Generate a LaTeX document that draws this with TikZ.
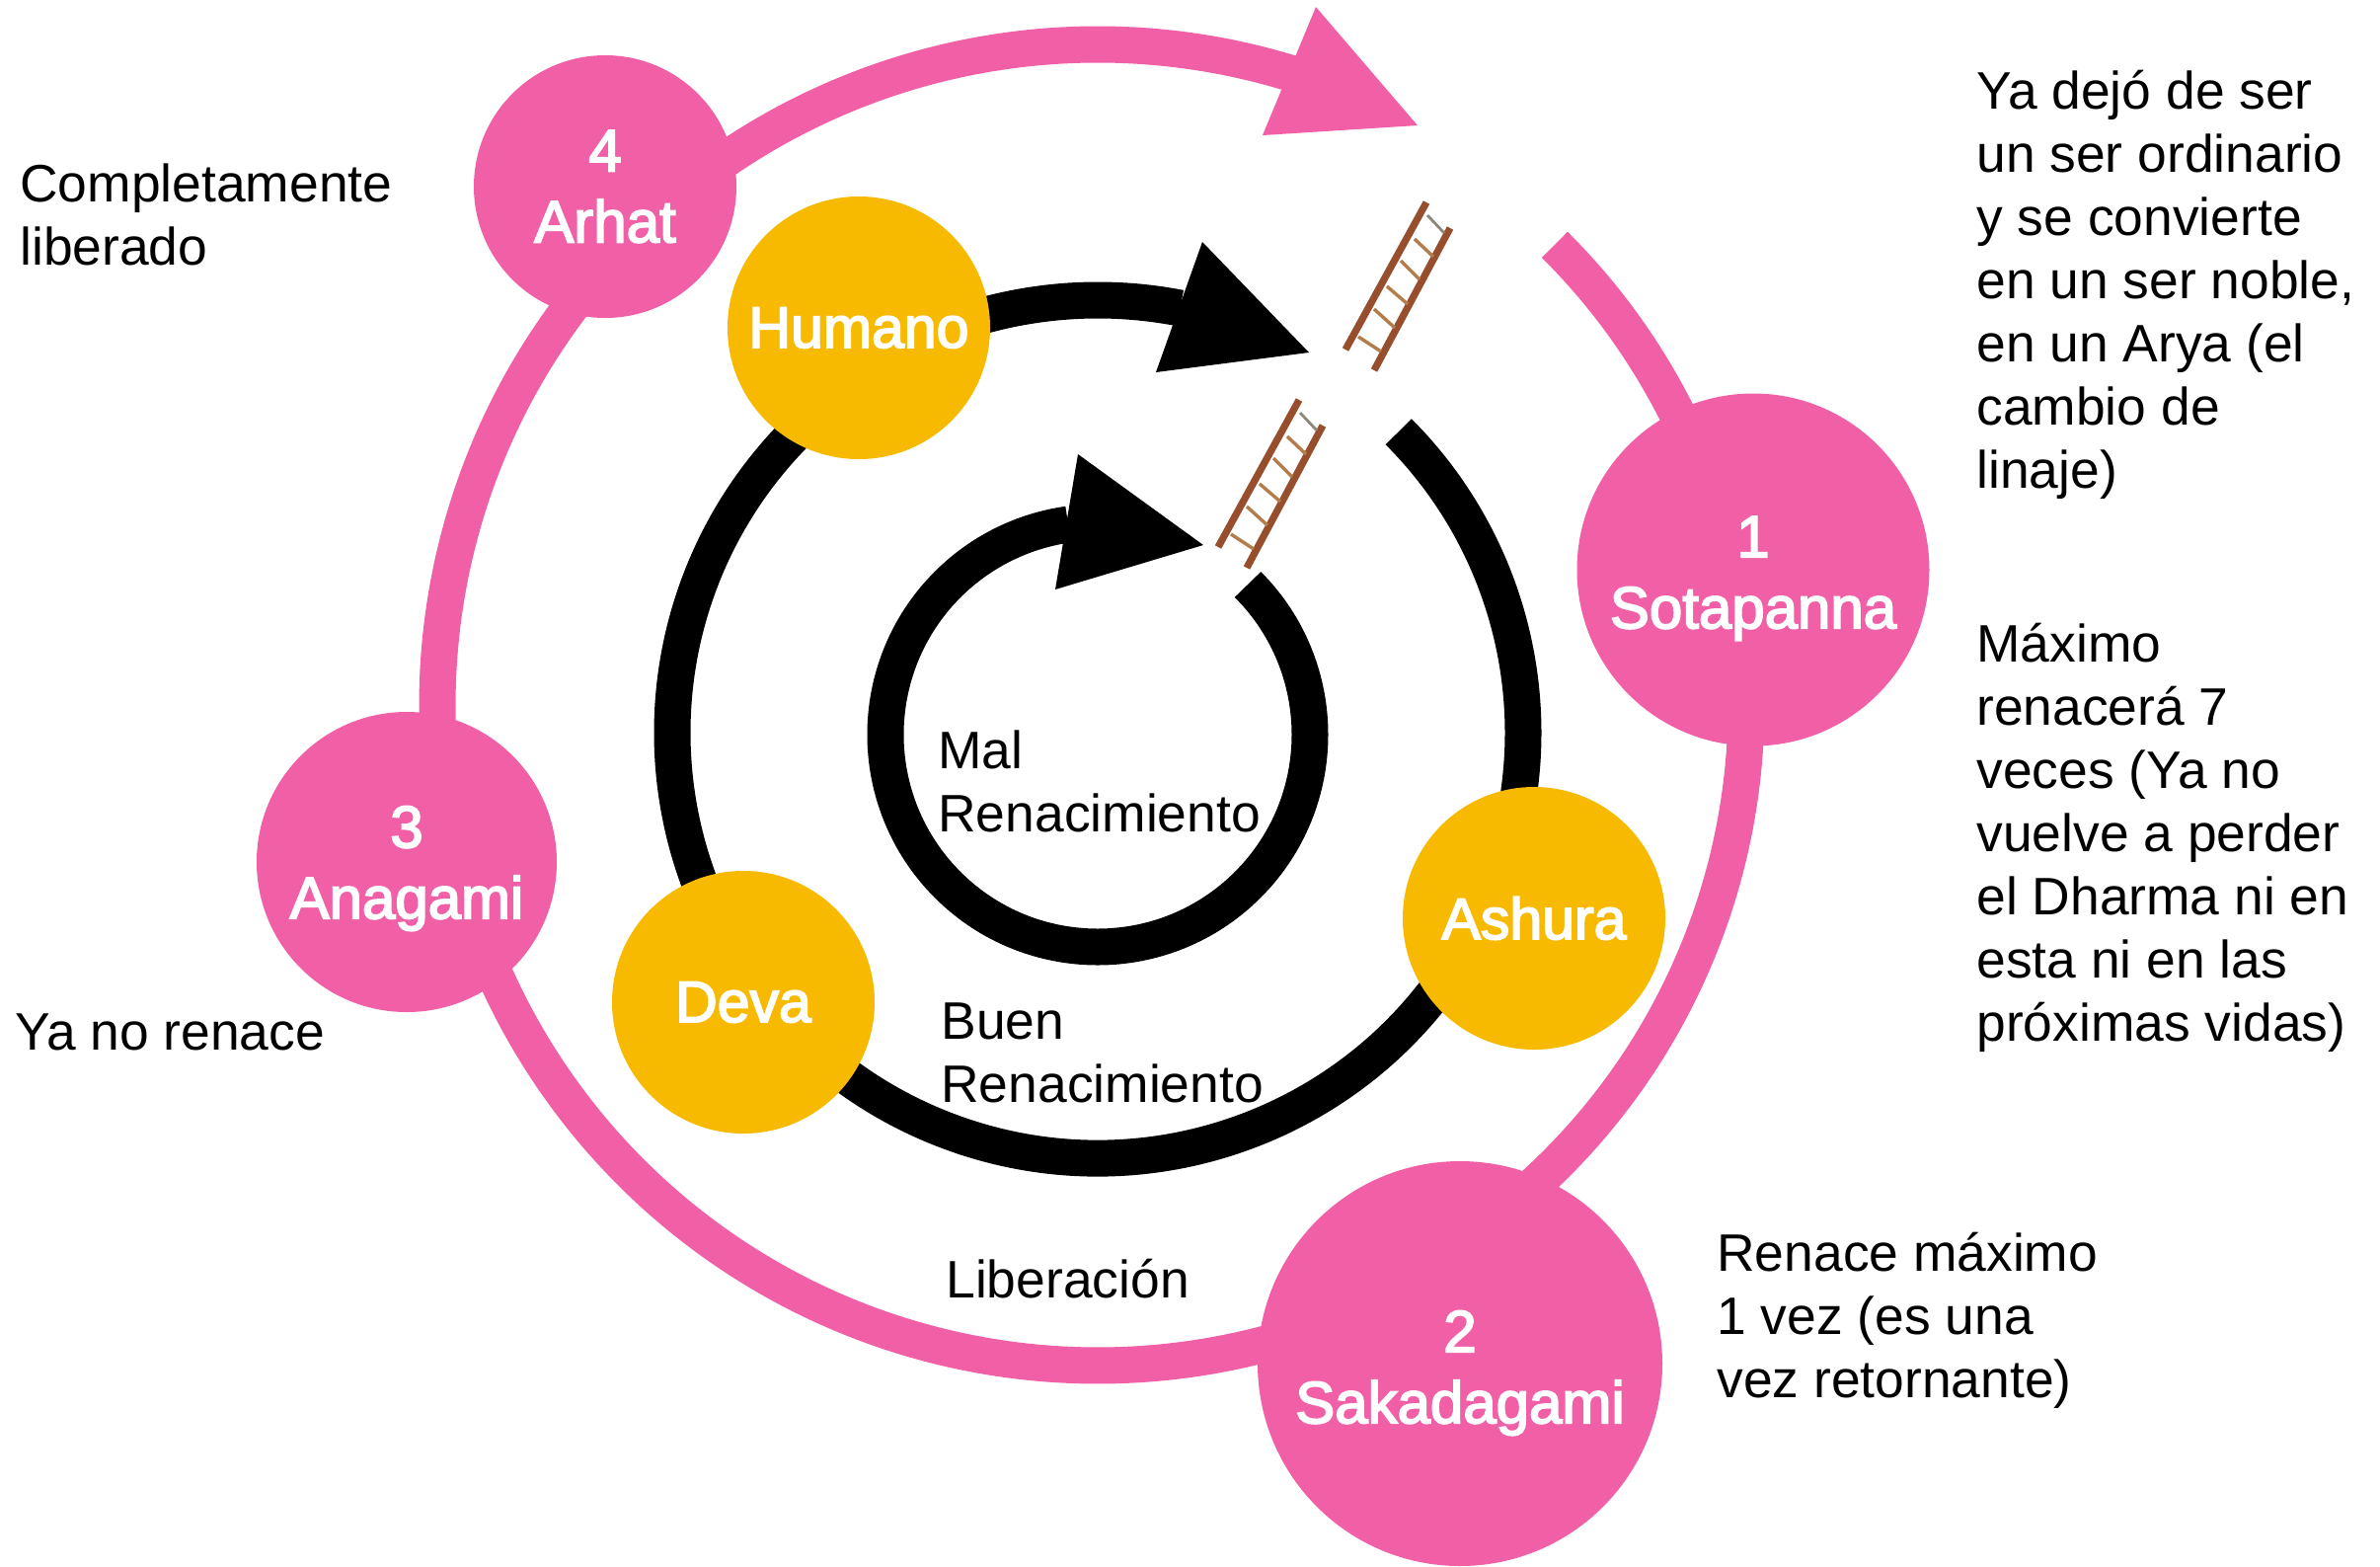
\documentclass[tikz,border=0pt]{standalone}
\usepackage{fontspec}
\usetikzlibrary{calc}
\setmainfont{Liberation Sans}
\newfontfamily\medfont[FakeBold=3.0]{Liberation Sans}
\newcommand\dropline[1]{\rule{0pt}{#1}}
\definecolor{rosa}{RGB}{241,95,166}
\definecolor{oro}{RGB}{248,186,0}
\definecolor{rail}{RGB}{150,78,44}
\definecolor{rung}{RGB}{178,125,75}
\definecolor{rungtop}{RGB}{140,135,120}
\tikzset{
  pinkline/.style={draw=rosa,line width=18.5pt},
  blackline/.style={draw=black,line width=18.5pt},
  pinkhead/.style={fill=rosa},
  blackhead/.style={fill=black},
  stage/.style={circle,fill=rosa,text=white,inner sep=0pt,align=center,font=\medfont\fontsize{30}{36}\selectfont},
  realm/.style={circle,fill=oro,text=white,inner sep=0pt,minimum size=133pt,align=center,font=\medfont\fontsize{29.5}{36}\selectfont},
  note/.style={anchor=west,align=left,inner sep=0pt,font=\fontsize{26.7}{32}\selectfont},
  ladder/.pic={
    \draw[rail,line width=3.6pt] (0,0) -- (82,-149);
    \draw[rail,line width=3.6pt] (29,21) -- (106,-123);
    \draw[rungtop,line width=1.4pt] (83,-136) -- (100,-118);
    \draw[rung,line width=1.7pt] (70,-112) -- (89,-94);
    \draw[rung,line width=1.7pt] (56,-90) -- (75,-71);
    \draw[rung,line width=1.7pt] (42,-64) -- (63,-46);
    \draw[rung,line width=1.7pt] (29,-41) -- (50,-22);
    \draw[rung,line width=1.7pt] (13,-13) -- (36,2);
  }
}
\begin{document}
\begin{tikzpicture}[x=0.5pt,y=-0.5pt]
\useasboundingbox (0,0) rectangle (2411,1586);
% ring centres
\coordinate (P) at (1112,714);
\coordinate (M) at (1112,742);
\coordinate (I) at (1112,744);
% pink ring stations
\coordinate (pStart) at ($(P)+(-45.2:657)$);
\coordinate (pOne) at ($(P)+(-11.7:657)$);
\coordinate (pTwo) at ($(P)+(61.2:669)$);
\coordinate (pThree) at ($(P)+(167.2:669)$);
\coordinate (pFour) at ($(P)+(226.5:669)$);
% middle ring stations
\coordinate (mStart) at ($(M)+(-45:431)$);
\coordinate (mAshura) at ($(M)+(23:431)$);
\coordinate (mDeva) at ($(M)+(143:431)$);
\coordinate (mHumano) at ($(M)+(239.4:438)$);
\coordinate (iStart) at ($(I)+(-45:215)$);
% connectors
\draw[pinkline] (pStart) arc[start angle=-45.2,end angle=-11.7,radius=657];
\draw[pinkline] (pOne) arc[start angle=-11.7,end angle=61.2,radius=657];
\draw[pinkline] (pTwo) arc[start angle=61.2,end angle=167.2,radius=669];
\draw[pinkline] (pThree) arc[start angle=167.2,end angle=226.5,radius=669];
\draw[pinkline] (pFour) arc[start angle=226.5,end angle=287,radius=669];
\draw[blackline] (mStart) arc[start angle=-45,end angle=23,radius=431];
\draw[blackline] (mAshura) arc[start angle=23,end angle=143,radius=431];
\draw[blackline] (mDeva) arc[start angle=143,end angle=239.4,radius=431];
\draw[blackline] (mHumano) arc[start angle=239.4,end angle=281,radius=438];
\draw[blackline] (iStart) arc[start angle=-45,end angle=262,radius=215];
% arrow heads
\fill[pinkhead] (1436,127) -- (1333,7) -- (1279,137) -- cycle;
\fill[blackhead] (1326,357) -- (1218,245) -- (1171,377) -- cycle;
\fill[blackhead] (1219,552) -- (1092,460) -- (1069,597) -- cycle;
% ladders
\pic at (1363,354) {ladder};
\pic at (1234,554) {ladder};
% nodes
\node[stage,minimum size=178.5pt] (Sotapanna) at (1776,577) {\dropline{29.5pt}1\\Sotapanna};
\node[stage,minimum size=205pt] (Sakadagami) at (1479,1381) {\dropline{30.5pt}2\\Sakadagami};
\node[stage,minimum size=152pt] (Anagami) at (412,873) {\dropline{27.5pt}3\\Anagami};
\node[stage,minimum size=133pt] (Arhat) at (613,189) {4\\Arhat};
\node[realm] (Humano) at (870,332) {Humano};
\node[realm] (Ashura) at (1554,930) {Ashura};
\node[realm] (Deva) at (753,1015) {Deva};
% texts
\node[note] (n1) at (2002,288) {Ya dejó de ser\\un ser ordinario\\y se convierte\\en un ser noble,\\en un Arya (el\\cambio de\\linaje)};
\node[note] (n2) at (2002,848) {Máximo\\renacerá 7\\veces (Ya no\\vuelve a perder\\el Dharma ni en\\esta ni en las\\próximas vidas)};
\node[note] (n3) at (1739,1337) {Renace máximo\\1 vez (es una\\vez retornante)};
\node[note] (n4) at (20,217) {Completamente\\liberado};
\node[note] (n5) at (15,1045) {Ya no renace};
\node[note] (n6) at (950,791) {Mal\\Renacimiento};
\node[note] (n7) at (953,1066) {Buen\\Renacimiento};
\node[note] (n8) at (958,1295) {Liberación};
\end{tikzpicture}
\end{document}
